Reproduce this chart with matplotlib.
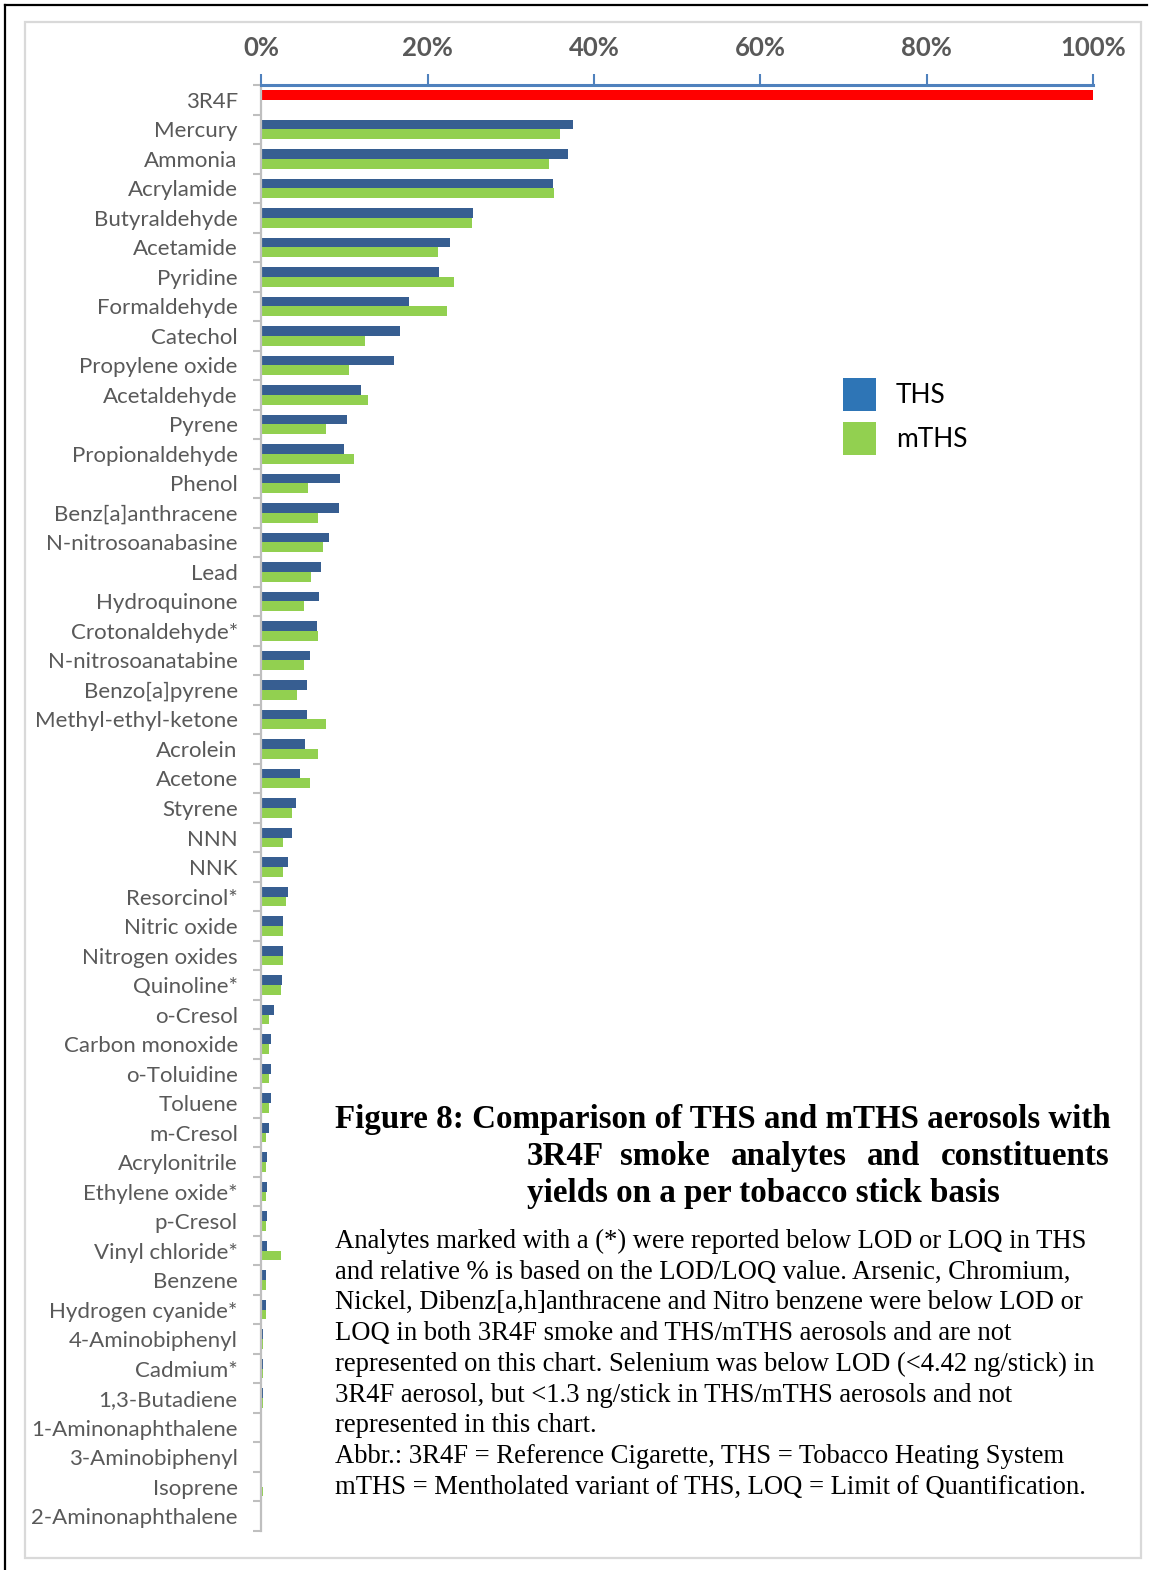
import numpy as np
import matplotlib.pyplot as plt
from matplotlib.patches import Patch, Rectangle
from matplotlib.lines import Line2D

W, H = 1152, 1570
DPI = 100

plt.rcParams['font.family'] = ['Lato', 'DejaVu Sans']

# relative yields, % of 3R4F (3R4F itself = 100)
categories = ['3R4F', 'Mercury', 'Ammonia', 'Acrylamide', 'Butyraldehyde', 'Acetamide',
              'Pyridine', 'Formaldehyde', 'Catechol', 'Propylene oxide', 'Acetaldehyde',
              'Pyrene', 'Propionaldehyde', 'Phenol', 'Benz[a]anthracene', 'N-nitrosoanabasine',
              'Lead', 'Hydroquinone', 'Crotonaldehyde*', 'N-nitrosoanatabine', 'Benzo[a]pyrene',
              'Methyl-ethyl-ketone', 'Acrolein', 'Acetone', 'Styrene', 'NNN', 'NNK',
              'Resorcinol*', 'Nitric oxide', 'Nitrogen oxides', 'Quinoline*', 'o-Cresol',
              'Carbon monoxide', 'o-Toluidine', 'Toluene', 'm-Cresol', 'Acrylonitrile',
              'Ethylene oxide*', 'p-Cresol', 'Vinyl chloride*', 'Benzene', 'Hydrogen cyanide*',
              '4-Aminobiphenyl', 'Cadmium*', '1,3-Butadiene', '1-Aminonaphthalene',
              '3-Aminobiphenyl', 'Isoprene', '2-Aminonaphthalene']
ths = [100, 37.5, 36.9, 35.1, 25.5, 22.7, 21.3, 17.8, 16.7, 15.9, 12.0,
       10.3, 9.9, 9.4, 9.3, 8.1, 7.2, 6.9, 6.7, 5.8, 5.5,
       5.5, 5.3, 4.7, 4.2, 3.7, 3.2, 3.2, 2.6, 2.6, 2.5, 1.5,
       1.2, 1.1, 1.1, 0.95, 0.65, 0.65, 0.65, 0.65, 0.55, 0.5,
       0.25, 0.25, 0.15, 0.1, 0.1, 0.1, 0.02]
mths = [0, 35.9, 34.6, 35.2, 25.3, 21.2, 23.2, 22.3, 12.4, 10.5, 12.8,
        7.8, 11.1, 5.6, 6.8, 7.4, 6.0, 5.1, 6.8, 5.1, 4.3,
        7.8, 6.8, 5.8, 3.7, 2.6, 2.6, 2.9, 2.6, 2.6, 2.3, 0.95,
        0.95, 0.9, 0.9, 0.55, 0.55, 0.55, 0.5, 2.3, 0.55, 0.5,
        0.2, 0.2, 0.15, 0.1, 0.1, 0.15, 0.02]
xticks = [0, 20, 40, 60, 80, 100]

title_lines = ['Figure 8: Comparison of THS and mTHS aerosols with',
               '3R4F smoke analytes and constituents',
               'yields on a per tobacco stick basis']
note_lines = ['Analytes marked with a (*) were reported below LOD or LOQ in THS',
              'and relative % is based on the LOD/LOQ value. Arsenic, Chromium,',
              'Nickel, Dibenz[a,h]anthracene and Nitro benzene were below LOD or',
              'LOQ in both 3R4F smoke and THS/mTHS aerosols and are not',
              'represented on this chart. Selenium was below LOD (<4.42 ng/stick) in',
              '3R4F aerosol, but <1.3 ng/stick in THS/mTHS aerosols and not',
              'represented in this chart.',
              'Abbr.: 3R4F = Reference Cigarette, THS = Tobacco Heating System',
              'mTHS = Mentholated variant of THS, LOQ = Limit of Quantification.']

fig = plt.figure(figsize=(W / DPI, H / DPI), dpi=DPI)
fig.patch.set_facecolor('white')

def px(x, y):
    return x / W, 1 - y / H

# frame lines
fig.add_artist(Line2D([5 / W, 1147 / W], [1 - 5 / H, 1 - 5 / H], color='black', lw=1.6))
fig.add_artist(Line2D([5 / W, 5 / W], [1 - 5 / H, 0], color='black', lw=1.6))
fig.add_artist(Rectangle(px(25, 1558), 1116 / W, 1536 / H, fill=False,
                         edgecolor='#D9D9D9', lw=1.6))

x0, x1, ytop, ybot = 261.4, 1093, 85, 1531
ax = fig.add_axes([x0 / W, 1 - ybot / H, (x1 - x0) / W, (ybot - ytop) / H])
n = len(categories)
y = np.arange(n)
bh = 0.33
ths_colors = ['#FF0000'] + ['#375E91'] * (n - 1)
ax.barh(y - bh / 2, ths, height=bh, color=ths_colors, linewidth=0)
ax.barh(y + bh / 2, mths, height=bh, color='#92D050', linewidth=0)

ax.set_xlim(0, 100)
ax.set_ylim(n - 0.5, -0.5)
ax.xaxis.tick_top()
ax.set_xticks(xticks)
ax.set_xticklabels([f'{v}%' for v in xticks], fontweight='bold')
ax.tick_params(axis='x', direction='out', length=8, width=1.5, color='#4F81BD',
               pad=10, labelsize=18.5, labelcolor='#595959')
ax.set_yticks(y)
ax.set_yticklabels(categories)
ax.set_yticks(np.arange(-0.5, n, 1), minor=True)
ax.tick_params(axis='y', which='major', length=0, pad=17, labelsize=16, labelcolor='#595959')
ax.tick_params(axis='y', which='minor', direction='out', length=6, width=1.5, color='#BFBFBF')
for s in ['bottom', 'right']:
    ax.spines[s].set_visible(False)
ax.spines['top'].set_color('#4F81BD')
ax.spines['top'].set_linewidth(2.2)
ax.spines['left'].set_color('#BFBFBF')
ax.spines['left'].set_linewidth(1.6)
ax.set_facecolor('none')

handles = [Patch(facecolor='#2E75B6', edgecolor='none', label='THS'),
           Patch(facecolor='#92D050', edgecolor='none', label='mTHS')]
ax.legend(handles=handles, loc='upper left', bbox_to_anchor=px(843, 378),
          bbox_transform=fig.transFigure, frameon=False, fontsize=19,
          handlelength=1.25, handleheight=1.55, handletextpad=0.75,
          labelspacing=0.4, borderpad=0, borderaxespad=0)

# caption
serif = 'Liberation Serif'
fs_title = 23.8
fig.text(*px(335, 1128), title_lines[0], family=serif, weight='bold', fontsize=fs_title, va='baseline')
words = title_lines[1].split()
word_x = [527, 620, 731, 867]
for wx, wd in zip(word_x, words[:-1]):
    fig.text(*px(wx, 1165), wd, family=serif, weight='bold', fontsize=fs_title, va='baseline')
fig.text(*px(1110, 1165), words[-1], family=serif, weight='bold', fontsize=fs_title,
         va='baseline', ha='right')
fig.text(*px(527, 1202), title_lines[2], family=serif, weight='bold', fontsize=fs_title, va='baseline')
for i, line in enumerate(note_lines):
    fig.text(*px(335, 1248 + i * 30.7), line, family=serif, fontsize=19.2, va='baseline')

fig.savefig('out.png', dpi=DPI)
